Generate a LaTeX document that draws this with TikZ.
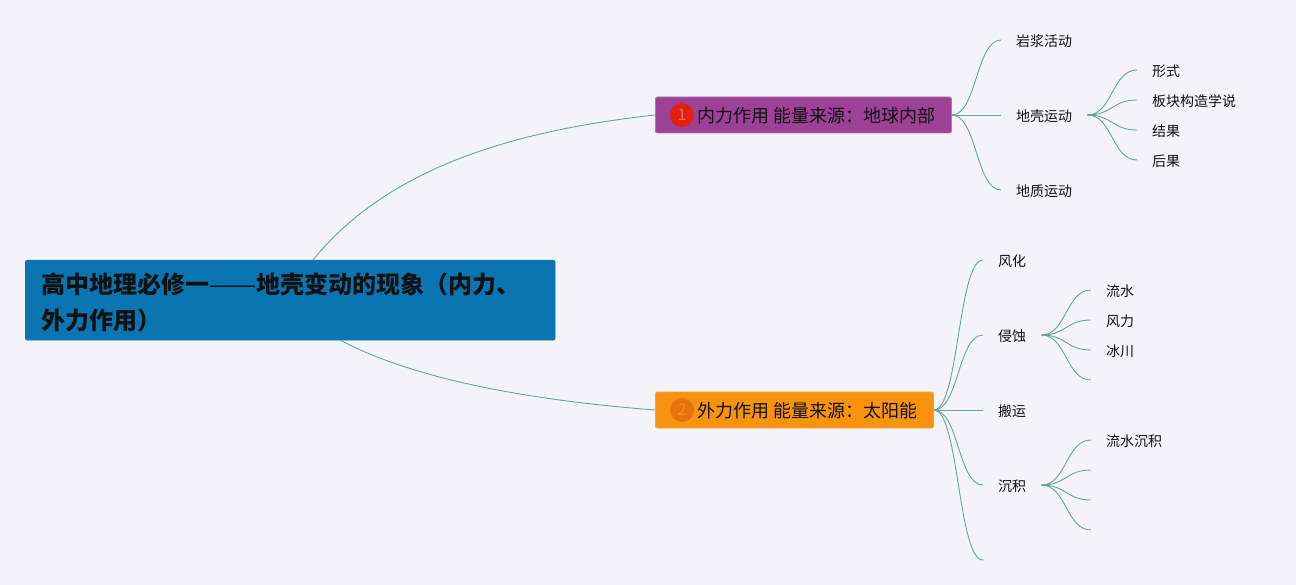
\documentclass[tikz,border=0pt]{standalone}
\usepackage{fontspec}
\setmainfont{Noto Sans CJK SC}
\usepackage{xcolor}
\definecolor{pagecolor}{RGB}{244,243,250}
\definecolor{rootcolor}{RGB}{10,117,176}
\definecolor{innercolor}{RGB}{155,66,150}
\definecolor{outercolor}{RGB}{247,147,14}
\definecolor{linkcolor}{RGB}{106,163,154}
\definecolor{inktext}{RGB}{17,17,17}
\definecolor{badgered}{RGB}{227,32,15}
\definecolor{badgeorange}{RGB}{232,114,15}
\tikzset{
    rootbox/.style={draw=rootcolor, fill=rootcolor, rounded corners=2pt, anchor=north west, minimum width=530pt, minimum height=80pt, text width=498pt, inner xsep=16pt, inner ysep=0pt, align=left, text=inktext, font=\fontsize{24}{36}\selectfont\bfseries},
    mainbox/.style={rounded corners=2pt, line width=0.8pt, anchor=west, minimum height=36pt, inner xsep=16pt, inner ysep=0pt, text height=18pt, text depth=2.3pt, text=inktext, font=\fontsize{18}{18}\selectfont},
    badge/.style={circle, minimum size=24pt, inner sep=0pt, font=\fontsize{16}{16}\selectfont},
    leaf/.style={anchor=west, inner xsep=15pt, inner ysep=0pt, text height=14pt, text depth=1.4pt, text=inktext, font=\fontsize{14}{14}\selectfont},
    link/.style={draw=linkcolor, line width=0.9pt},
    branch/.style={to path={.. controls +(25,0) and +(-25,0) .. (\tikztotarget)}}
}
\begin{document}
\begin{tikzpicture}[x=1pt, y=-1pt]
    % Fond
    \fill[pagecolor] (0,0) rectangle (1296,585);
    \useasboundingbox (0,0) rectangle (1296,585);

    % === RACINE ===
    \node[rootbox] (root) at (25,260) {\rule{0pt}{25pt}高中地理必修一{\mdseries\scalebox{1.18}[1]{——}}地壳变动的现象（内力、\\外力作用）};
    \coordinate (rootup) at (313,260);
    \coordinate (rootdown) at (340,340);

    % === INTERNE (haut) ===
    \node[mainbox, draw=innercolor!75!white, fill=innercolor] (inner) at (655,115) {\hspace*{26pt}内力作用 能量来源：地球内部};
    \node[badge, fill=badgered, text=badgered!65!white] (badgeone) at (682,115) {1};

    \node[leaf] (magma) at (1001,40) {岩浆活动};
    \node[leaf] (crust) at (1001,115) {地壳运动};
    \node[leaf] (geology) at (1001,190) {地质运动};

    \node[leaf] (form) at (1137,70) {形式};
    \node[leaf] (plate) at (1137,100) {板块构造学说};
    \node[leaf] (result) at (1137,130) {结果};
    \node[leaf] (effect) at (1137,160) {后果};

    % === EXTERNE (bas) ===
    \node[mainbox, draw=outercolor!85!white, fill=outercolor] (outer) at (655,410) {\hspace*{26pt}外力作用 能量来源：太阳能};
    \node[badge, fill=badgeorange, text=outercolor] (badgetwo) at (682,410) {2};

    \node[leaf] (weather) at (983,260) {风化};
    \node[leaf] (erosion) at (983,335) {侵蚀};
    \node[leaf] (carry) at (983,410) {搬运};
    \node[leaf] (deposit) at (983,485) {沉积};
    \coordinate (outerend) at (983,560);

    \node[leaf] (stream) at (1091,290) {流水};
    \node[leaf] (wind) at (1091,320) {风力};
    \node[leaf] (glacier) at (1091,350) {冰川};
    \coordinate (erosionend) at (1091,380);

    \node[leaf] (streamdep) at (1091,440) {流水沉积};
    \coordinate (deposita) at (1091,470);
    \coordinate (depositb) at (1091,500);
    \coordinate (depositc) at (1091,530);

    % Liens
    \draw[link] (rootup) .. controls (390,165) and (520,130) .. (inner.west);
    \draw[link] (rootdown) .. controls (400,372) and (500,398) .. (outer.west);

    \draw[link] (inner.east) to[branch] (magma.west);
    \draw[link] (inner.east) to[branch] (crust.west);
    \draw[link] (inner.east) to[branch] (geology.west);

    \draw[link] (crust.east) to[branch] (form.west);
    \draw[link] (crust.east) to[branch] (plate.west);
    \draw[link] (crust.east) to[branch] (result.west);
    \draw[link] (crust.east) to[branch] (effect.west);

    \draw[link] (outer.east) to[branch] (weather.west);
    \draw[link] (outer.east) to[branch] (erosion.west);
    \draw[link] (outer.east) to[branch] (carry.west);
    \draw[link] (outer.east) to[branch] (deposit.west);
    \draw[link] (outer.east) to[branch] (outerend);

    \draw[link] (erosion.east) to[branch] (stream.west);
    \draw[link] (erosion.east) to[branch] (wind.west);
    \draw[link] (erosion.east) to[branch] (glacier.west);
    \draw[link] (erosion.east) to[branch] (erosionend);

    \draw[link] (deposit.east) to[branch] (streamdep.west);
    \draw[link] (deposit.east) to[branch] (deposita);
    \draw[link] (deposit.east) to[branch] (depositb);
    \draw[link] (deposit.east) to[branch] (depositc);
\end{tikzpicture}
\end{document}
